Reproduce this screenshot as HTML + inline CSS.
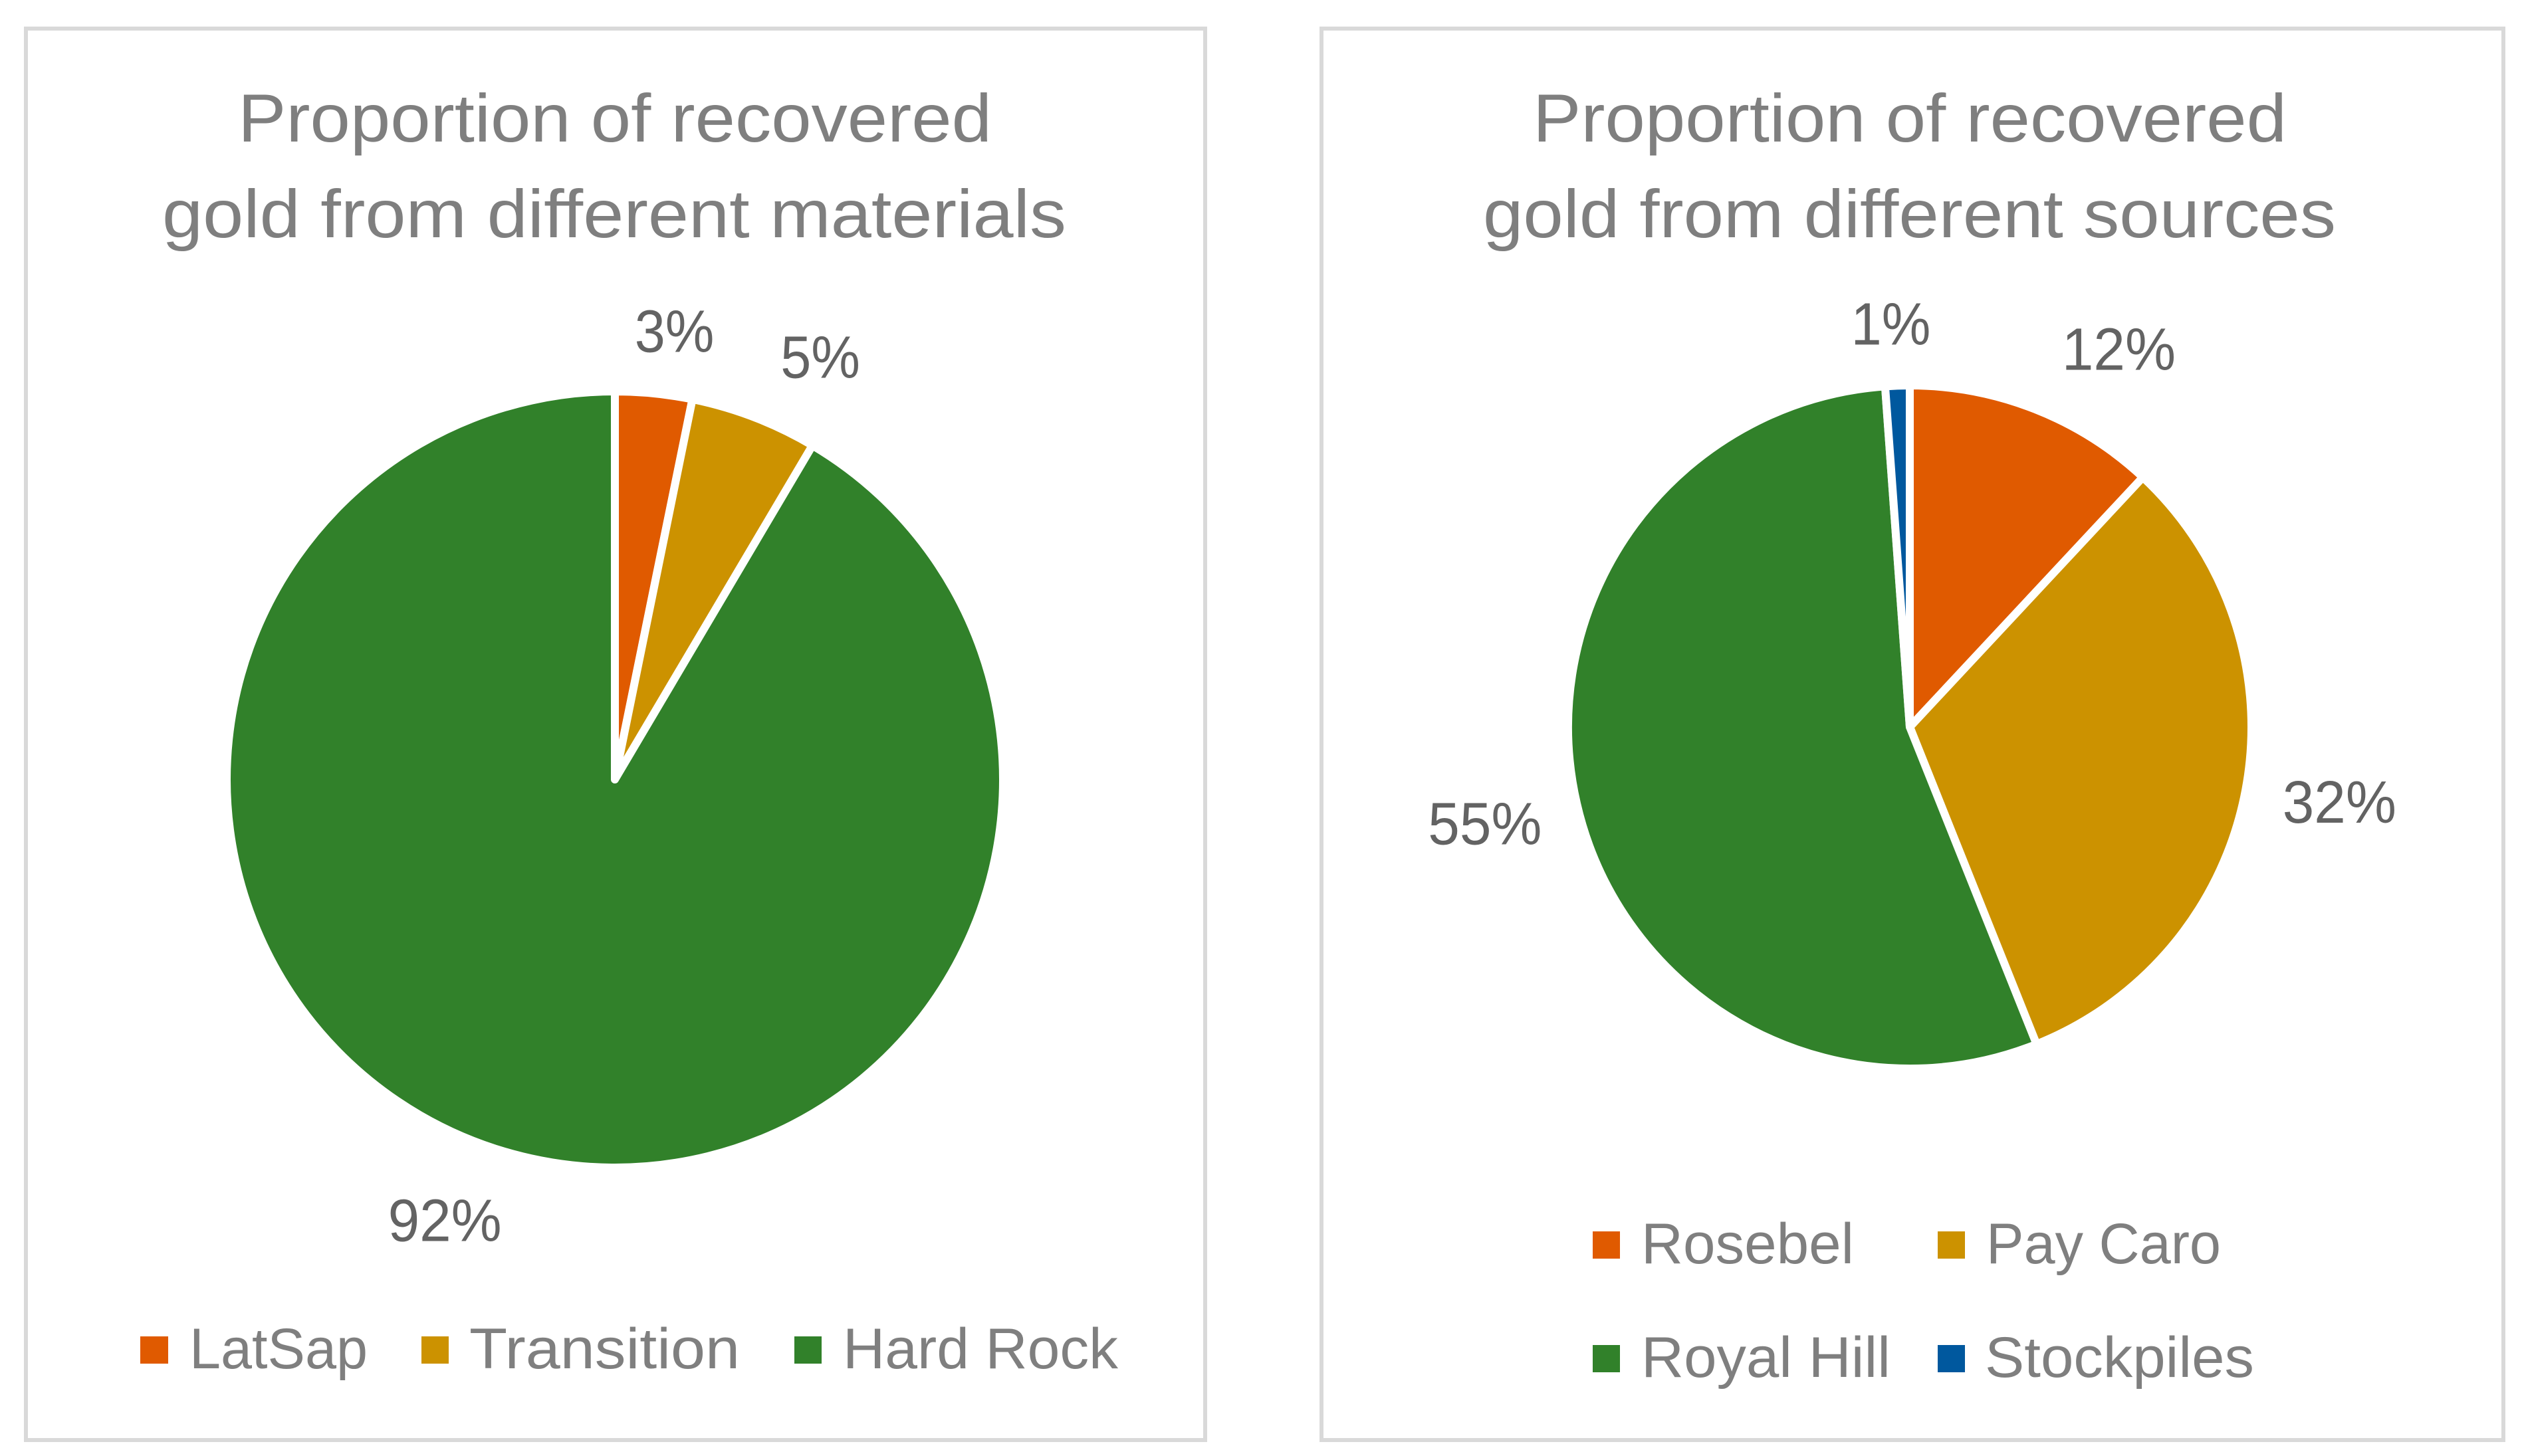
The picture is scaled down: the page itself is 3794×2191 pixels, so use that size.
<!DOCTYPE html>
<html lang="en">
<head>
<meta charset="utf-8">
<title>Proportion of recovered gold</title>
<style>
html,body{margin:0;padding:0;background:#fff;width:3794px;height:2191px;overflow:hidden}
svg{display:block}
text{font-family:"Liberation Sans",sans-serif}
.title{font-size:102px;fill:#7f7f7f}
.legend{font-size:86px;fill:#7f7f7f}
.label{font-size:90px;fill:#636363;text-anchor:middle}
</style>
</head>
<body>
<svg id="chart" xmlns="http://www.w3.org/2000/svg" width="3794" height="2191" viewBox="0 0 3794 2191">
  <g id="left-chart">
    <rect x="39" y="43" width="1774" height="2124" fill="#fff" stroke="#d9d9d9" stroke-width="6"/>
    <text class="title" x="358" y="213" textLength="1134" lengthAdjust="spacingAndGlyphs">Proportion of recovered</text>
    <text class="title" x="244" y="357" textLength="1360" lengthAdjust="spacingAndGlyphs">gold from different materials</text>
    <g id="left-slices"></g>
    <g id="left-labels"></g>
    <g>
      <rect x="211" y="2011" width="42" height="41" fill="#e05a00"/>
      <text class="legend" x="285" y="2059" textLength="268" lengthAdjust="spacingAndGlyphs">LatSap</text>
      <rect x="634" y="2011" width="41" height="41" fill="#cc9200"/>
      <text class="legend" x="706" y="2059" textLength="407" lengthAdjust="spacingAndGlyphs">Transition</text>
      <rect x="1195" y="2011" width="41" height="41" fill="#31812a"/>
      <text class="legend" x="1268" y="2059" textLength="414" lengthAdjust="spacingAndGlyphs">Hard Rock</text>
    </g>
  </g>
  <g id="right-chart">
    <rect x="1988" y="43" width="1778" height="2124" fill="#fff" stroke="#d9d9d9" stroke-width="6"/>
    <text class="title" x="2306" y="213" textLength="1134" lengthAdjust="spacingAndGlyphs">Proportion of recovered</text>
    <text class="title" x="2231" y="357" textLength="1283" lengthAdjust="spacingAndGlyphs">gold from different sources</text>
    <g id="right-slices"></g>
    <g id="right-labels"></g>
    <g>
      <rect x="2396" y="1853" width="41" height="41" fill="#e05a00"/>
      <text class="legend" x="2469" y="1901" textLength="320" lengthAdjust="spacingAndGlyphs">Rosebel</text>
      <rect x="2915" y="1853" width="41" height="41" fill="#cc9200"/>
      <text class="legend" x="2988" y="1901" textLength="353" lengthAdjust="spacingAndGlyphs">Pay Caro</text>
      <rect x="2396" y="2024" width="41" height="41" fill="#31812a"/>
      <text class="legend" x="2469" y="2072" textLength="375" lengthAdjust="spacingAndGlyphs">Royal Hill</text>
      <rect x="2915" y="2024" width="41" height="41" fill="#00589e"/>
      <text class="legend" x="2986" y="2072" textLength="405" lengthAdjust="spacingAndGlyphs">Stockpiles</text>
    </g>
  </g>
</svg>
<script>
const materialCategories = ["LatSap", "Transition", "Hard Rock"];
const materialValues = [3.2, 5.3, 91.5];
const sourceCategories = ["Rosebel", "Pay Caro", "Royal Hill", "Stockpiles"];
const sourceValues = [11.95, 32, 54.9, 1.15];

const SVG_NS = "http://www.w3.org/2000/svg";
const COLORS = ["#e05a00", "#cc9200", "#31812a", "#00589e"];
const LEFT_LAYOUT = { cx: 925, cy: 1173, r: 578, gap: 115, nudges: [[20, 14], [60, 10], [-73, -6]] };
const RIGHT_LAYOUT = { cx: 2873, cy: 1094, r: 508, gap: 115, nudges: [[86, 10], [34, -3], [-32, 5], [-6, 15]] };

function slug(s) {
  return s.toLowerCase().replace(/\s+/g, "-");
}
function angleScale(values) {
  const total = values.reduce(function (a, b) { return a + b; }, 0);
  return function (v) { return (v / total) * 2 * Math.PI; };
}
function polar(layout, radius, angle) {
  return [layout.cx + radius * Math.sin(angle), layout.cy - radius * Math.cos(angle)];
}
function drawPie(sliceGroupId, labelGroupId, categories, values, layout) {
  const sliceGroup = document.getElementById(sliceGroupId);
  const labelGroup = document.getElementById(labelGroupId);
  const toAngle = angleScale(values);
  const outer = layout.r + 6;
  let start = 0;
  values.forEach(function (value, i) {
    const sweep = toAngle(value);
    const end = start + sweep;
    const a = polar(layout, outer, start);
    const b = polar(layout, outer, end);
    const large = sweep > Math.PI ? 1 : 0;
    const path = document.createElementNS(SVG_NS, "path");
    path.setAttribute("d", "M" + layout.cx + " " + layout.cy + "L" + a[0] + " " + a[1] + "A" + outer + " " + outer + " 0 " + large + " 1 " + b[0] + " " + b[1] + "Z");
    path.setAttribute("fill", COLORS[i]);
    path.setAttribute("stroke", "#fff");
    path.setAttribute("stroke-width", "12");
    path.setAttribute("stroke-linejoin", "round");
    
    
    sliceGroup.appendChild(path);

    const mid = start + sweep / 2;
    const p = polar(layout, layout.r + layout.gap, mid);
    const nudge = layout.nudges[i];
    const text = document.createElementNS(SVG_NS, "text");
    text.setAttribute("class", "label");
    text.setAttribute("x", p[0] + nudge[0]);
    text.setAttribute("y", p[1] + nudge[1] + 32);
    text.textContent = Math.round(value) + "%";
    
    
    labelGroup.appendChild(text);
    const natural = text.getComputedTextLength();
    text.setAttribute("textLength", natural * (text.textContent.length < 3 ? 0.92 : 0.95));
    text.setAttribute("lengthAdjust", "spacingAndGlyphs");
    start = end;
  });
}
drawPie("left-slices", "left-labels", materialCategories, materialValues, LEFT_LAYOUT);
drawPie("right-slices", "right-labels", sourceCategories, sourceValues, RIGHT_LAYOUT);
</script>
</body>
</html>
